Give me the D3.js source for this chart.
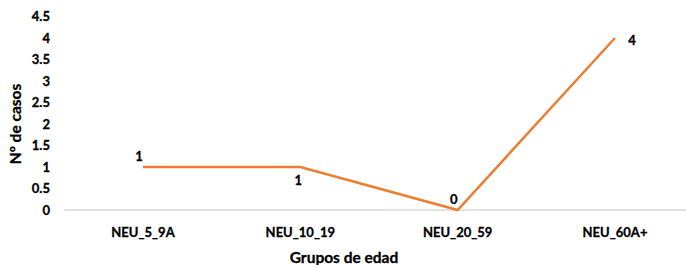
<!DOCTYPE html>
<html lang="es">
<head>
    <meta charset="UTF-8">
    <title>Casos por grupo de edad</title>
    <script src="https://d3js.org/d3.v7.min.js"></script>
    <style>
        body { margin: 0; background: #fff; }
        text { font-family: Lato, "Open Sans", sans-serif; font-weight: bold; fill: #000; stroke: #000; stroke-width: 0.3px; }
    </style>
</head>
<body>
    <svg></svg>
    <script>
        // chart data
        const grupos = ["NEU_5_9A", "NEU_10_19", "NEU_20_59", "NEU_60A+"];
        const casos = [1, 1, 0, 4];
        const yTicks = [0, 0.5, 1, 1.5, 2, 2.5, 3, 3.5, 4, 4.5];
        // label placement per point (Excel picks these)
        const labelPos = ["above", "below", "above", "right"];

        const width = 686;
        const height = 265;

        const svg = d3.select("svg")
            .attr("width", width)
            .attr("height", height);

        const x = d3.scalePoint()
            .domain(grupos)
            .range([143, 615]);

        const y = d3.scaleLinear()
            .domain([0, 4.5])
            .range([210, 16.5]);

        // baseline
        svg.append("line")
            .attr("x1", 64).attr("x2", width)
            .attr("y1", y(0)).attr("y2", y(0))
            .attr("stroke", "#d9d9d9")
            .attr("stroke-width", 1.5);

        // y tick labels
        svg.selectAll(".ytick")
            .data(yTicks)
            .join("text")
            .attr("class", "ytick")
            .attr("x", 50)
            .attr("y", d => y(d))
            .attr("dy", "0.35em")
            .attr("text-anchor", "end")
            .style("font-size", "13px")
            .text(d => d);

        // x tick labels
        svg.selectAll(".xtick")
            .data(grupos)
            .join("text")
            .attr("class", "xtick")
            .attr("x", d => x(d))
            .attr("y", 232)
            .attr("dy", "0.35em")
            .attr("text-anchor", "middle")
            .style("font-size", "13px")
            .text(d => d);

        // axis titles
        svg.append("text")
            .attr("x", 344)
            .attr("y", 258)
            .attr("dy", "0.35em")
            .attr("text-anchor", "middle")
            .style("font-size", "15.5px")
            .text("Grupos de edad");

        svg.append("text")
            .attr("transform", "translate(16,124) rotate(-90)")
            .attr("dy", "0.35em")
            .attr("text-anchor", "middle")
            .style("font-size", "15.5px")
            .text("Nº de casos");

        // line
        const line = d3.line()
            .x((d, i) => x(grupos[i]))
            .y(d => y(d));

        svg.append("path")
            .datum(casos)
            .attr("d", line)
            .attr("fill", "none")
            .attr("stroke", "#ED7D31")
            .attr("stroke-width", 2.5);

        // data labels
        svg.selectAll(".lbl")
            .data(casos)
            .join("text")
            .attr("class", "lbl")
            .attr("x", (d, i) => {
                const p = labelPos[i];
                if (p === "right") return x(grupos[i]) + 17;
                if (p === "above") return x(grupos[i]) - 4;
                return x(grupos[i]) - 2;
            })
            .attr("y", (d, i) => {
                const p = labelPos[i];
                if (p === "right") return y(d) + 2;
                if (p === "above") return y(d) - 11;
                return y(d) + 13;
            })
            .attr("dy", "0.35em")
            .attr("text-anchor", "middle")
            .style("font-size", "13px")
            .text(d => d);
    </script>
</body>
</html>
